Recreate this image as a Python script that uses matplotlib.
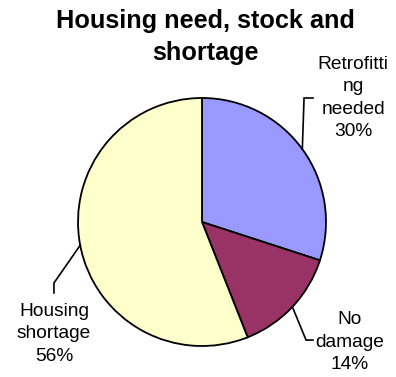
import numpy as np
import matplotlib
matplotlib.use("Agg")
import matplotlib.pyplot as plt

plt.rcParams['font.family'] = ['Liberation Sans', 'DejaVu Sans']

labels = ['Retrofitti\nng\nneeded', 'No\ndamage', 'Housing\nshortage']
shares = [30, 14, 56]
colors = ['#9999FF', '#993366', '#FFFFCC']

# elbow / end of each leader line and label centre (pie radius = 1)
elbows = [(0.823, 1.0), (0.839, -0.952), (-1.194, -0.492)]
ends = [(0.895, 1.0), (0.895, -0.952), (-1.194, -0.572)]
text_pos = [(1.22, 1.0), (1.19, -0.968), (-1.194, -0.903)]

fig = plt.figure(figsize=(3.96, 3.77), dpi=100)
ax = fig.add_axes([78/396, 31/377, 248/396, 248/377])

wedges, _ = ax.pie(shares, colors=colors, startangle=90, counterclock=False,
                   wedgeprops=dict(edgecolor='black', linewidth=1.3, clip_on=False))
ax.set_xlim(-1, 1)
ax.set_ylim(-1, 1)
ax.set_aspect('equal')
ax.axis('off')

for w, lab, val, el, en, tp in zip(wedges, labels, shares, elbows, ends, text_pos):
    mid = np.deg2rad((w.theta1 + w.theta2) / 2)
    x0, y0 = np.cos(mid), np.sin(mid)
    ax.plot([x0, el[0], en[0]], [y0, el[1], en[1]], color='black', lw=1.2,
            clip_on=False, solid_joinstyle='miter')
    ax.text(tp[0], tp[1], '%s\n%d%%' % (lab, val), ha='center', va='center',
            fontsize=13.8, linespacing=1.42, color='black')

fig.text(205/396, 1 - 37/377, 'Housing need, stock and\nshortage', ha='center',
         va='center', fontsize=18.2, fontweight='bold', linespacing=1.4)

fig.savefig('out.png', dpi=100)
